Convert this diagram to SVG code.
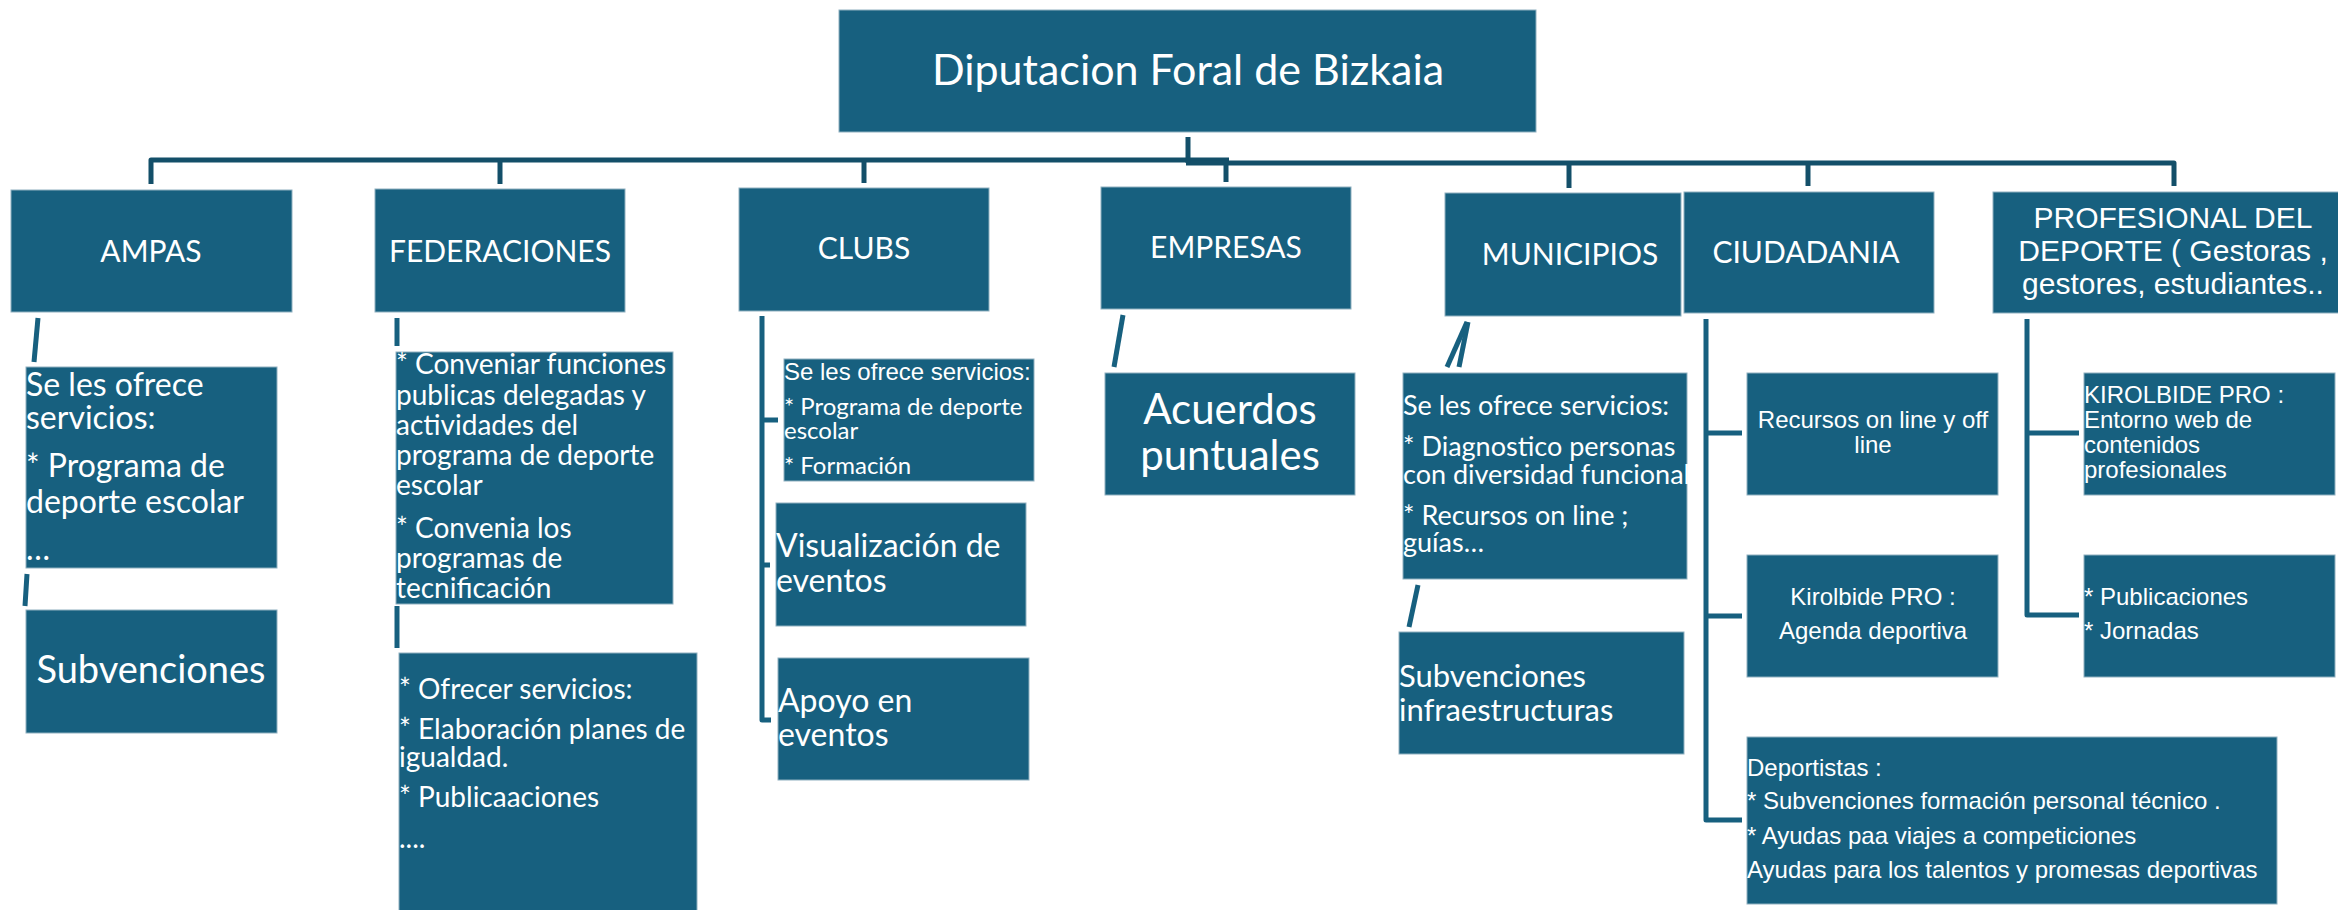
<svg xmlns="http://www.w3.org/2000/svg" width="2338" height="910" viewBox="0 0 2338 910">
<style>
.box{fill:#17607f;stroke:#8fb0c0;stroke-width:1}
.c{fill:none;stroke:#17607f;stroke-width:5;stroke-linejoin:round}
.ct{fill:none;stroke:#134f69;stroke-width:5;stroke-linejoin:round}
.l{font-family:Lato,"Open Sans",sans-serif;fill:#fff}
.a{font-family:"Liberation Sans",Arial,sans-serif;fill:#fff}
.m{text-anchor:middle}
</style>
<rect width="2338" height="910" fill="#fff"/>
<g id="connectors">
<path class="ct" d="M151,184 V160 H1229"/>
<path class="ct" d="M1186,163 H2174 V186"/>
<path class="ct" d="M1188,137 V163"/>
<path class="ct" d="M500,160 V184"/>
<path class="ct" d="M864,160 V183"/>
<path class="ct" d="M1226,163 V182"/>
<path class="ct" d="M1569,163 V188"/>
<path class="ct" d="M1808,163 V186"/>
<path class="c" d="M38,318 L34,362" stroke-width="6"/>
<path class="c" d="M27,574 L25,606"/>
<path class="c" d="M397,318 V346"/>
<path class="c" d="M397,606 V648"/>
<path class="c" d="M762,316 V720 H771"/>
<path class="c" d="M762,420 H778"/>
<path class="c" d="M762,565 H770"/>
<path class="c" d="M1123,315 L1114,367"/>
<path class="c" d="M1467,322 L1447,367" stroke-width="4"/>
<path class="c" d="M1468,322 L1459,367" stroke-width="4"/>
<path class="c" d="M1418,585 L1409,627"/>
<path class="c" d="M1706,319 V820 H1742"/>
<path class="c" d="M1706,433 H1742"/>
<path class="c" d="M1706,616 H1742"/>
<path class="c" d="M2027,319 V615 H2079"/>
<path class="c" d="M2027,433 H2079"/>
</g>
<g id="diputacion">
<rect class="box" x="839" y="10" width="697" height="122"/>
<text class="l m" x="1188" y="85" font-size="43">Diputacion Foral de Bizkaia</text>
</g>
<g id="ampas">
<rect class="box" x="11" y="190" width="281" height="122"/>
<text class="l m" x="151" y="262" font-size="30">AMPAS</text>
</g>
<g id="ampas-servicios">
<rect class="box" x="26" y="367" width="251" height="201"/>
<text class="l" font-size="32"><tspan x="26" y="396">Se les ofrece</tspan><tspan x="26" y="429">servicios:</tspan><tspan x="26" y="477">* Programa de</tspan><tspan x="26" y="513">deporte escolar</tspan><tspan x="26" y="560">…</tspan></text>
</g>
<g id="ampas-subvenciones">
<rect class="box" x="26" y="610" width="251" height="123"/>
<text class="l m" x="151" y="683" font-size="38">Subvenciones</text>
</g>
<g id="federaciones">
<rect class="box" x="375" y="189" width="250" height="123"/>
<text class="l m" x="500" y="262" font-size="30">FEDERACIONES</text>
</g>
<g id="fed-convenios">
<rect class="box" x="396" y="352" width="277" height="252"/>
<text class="l" font-size="28"><tspan x="396" y="374">* Conveniar funciones</tspan><tspan x="396" y="405">publicas delegadas y</tspan><tspan x="396" y="435">actividades del</tspan><tspan x="396" y="465">programa de deporte</tspan><tspan x="396" y="495">escolar</tspan><tspan x="396" y="538">* Convenia los</tspan><tspan x="396" y="568">programas de</tspan><tspan x="396" y="598">tecnificación</tspan></text>
</g>
<g id="fed-servicios">
<rect class="box" x="399" y="653" width="298" height="262"/>
<text class="l" font-size="28"><tspan x="399" y="699">* Ofrecer servicios:</tspan><tspan x="399" y="739">* Elaboración planes de</tspan><tspan x="399" y="767">igualdad.</tspan><tspan x="399" y="807">* Publicaaciones</tspan><tspan x="399" y="848">....</tspan></text>
</g>
<g id="clubs">
<rect class="box" x="739" y="188" width="250" height="123"/>
<text class="l m" x="864" y="259" font-size="30">CLUBS</text>
</g>
<g id="clubs-servicios">
<rect class="box" x="784" y="359" width="250" height="122"/>
<text class="a" x="784" y="380" font-size="24">Se les ofrece servicios:</text>
<text class="l" font-size="24"><tspan x="784" y="415">* Programa de deporte</tspan><tspan x="784" y="439">escolar</tspan><tspan x="784" y="474">* Formación</tspan></text>
</g>
<g id="clubs-visualizacion">
<rect class="box" x="776" y="503" width="250" height="123"/>
<text class="l" font-size="32"><tspan x="776" y="557">Visualización de</tspan><tspan x="776" y="592">eventos</tspan></text>
</g>
<g id="clubs-apoyo">
<rect class="box" x="778" y="658" width="251" height="122"/>
<text class="l" font-size="32"><tspan x="778" y="712">Apoyo en</tspan><tspan x="778" y="746">eventos</tspan></text>
</g>
<g id="empresas">
<rect class="box" x="1101" y="187" width="250" height="122"/>
<text class="l m" x="1226" y="258" font-size="30">EMPRESAS</text>
</g>
<g id="empresas-acuerdos">
<rect class="box" x="1105" y="373" width="250" height="122"/>
<text class="l m" font-size="42"><tspan x="1230" y="424">Acuerdos</tspan><tspan x="1230" y="470">puntuales</tspan></text>
</g>
<g id="municipios">
<rect class="box" x="1445" y="193" width="236" height="123"/>
<text class="l m" x="1570" y="265" font-size="30">MUNICIPIOS</text>
</g>
<g id="muni-servicios">
<rect class="box" x="1403" y="373" width="284" height="206"/>
<text class="l" font-size="27"><tspan x="1403" y="415">Se les ofrece servicios:</tspan><tspan x="1403" y="456">* Diagnostico personas</tspan><tspan x="1403" y="484">con diversidad funcional</tspan><tspan x="1403" y="525">* Recursos on line ;</tspan><tspan x="1403" y="552">guías…</tspan></text>
</g>
<g id="muni-subvenciones">
<rect class="box" x="1399" y="632" width="285" height="122"/>
<text class="l" font-size="31"><tspan x="1399" y="687">Subvenciones</tspan><tspan x="1399" y="721">infraestructuras</tspan></text>
</g>
<g id="ciudadania">
<rect class="box" x="1684" y="192" width="250" height="121"/>
<text class="l m" x="1806" y="263" font-size="30">CIUDADANIA</text>
</g>
<g id="ciud-recursos">
<rect class="box" x="1747" y="373" width="251" height="122"/>
<text class="a m" font-size="24"><tspan x="1873" y="428">Recursos on line y off</tspan><tspan x="1873" y="453">line</tspan></text>
</g>
<g id="ciud-kirolbide">
<rect class="box" x="1747" y="555" width="251" height="122"/>
<text class="a m" font-size="24"><tspan x="1873" y="605">Kirolbide PRO :</tspan><tspan x="1873" y="639">Agenda deportiva</tspan></text>
</g>
<g id="ciud-deportistas">
<rect class="box" x="1747" y="737" width="530" height="167"/>
<text class="a" font-size="24"><tspan x="1747" y="776">Deportistas :</tspan><tspan x="1747" y="809">* Subvenciones formación personal técnico .</tspan><tspan x="1747" y="844">* Ayudas paa viajes a competiciones</tspan><tspan x="1747" y="878">Ayudas para los talentos y promesas deportivas</tspan></text>
</g>
<g id="profesional">
<rect class="box" x="1993" y="192" width="350" height="121"/>
<text class="a m" font-size="30"><tspan x="2173" y="228">PROFESIONAL DEL</tspan><tspan x="2173" y="261">DEPORTE ( Gestoras ,</tspan><tspan x="2173" y="294">gestores, estudiantes..</tspan></text>
</g>
<g id="prof-kirolbide">
<rect class="box" x="2084" y="373" width="251" height="122"/>
<text class="a" font-size="24"><tspan x="2084" y="403">KIROLBIDE PRO :</tspan><tspan x="2084" y="428">Entorno web de</tspan><tspan x="2084" y="453">contenidos</tspan><tspan x="2084" y="478">profesionales</tspan></text>
</g>
<g id="prof-publicaciones">
<rect class="box" x="2084" y="555" width="251" height="122"/>
<text class="a" font-size="24"><tspan x="2084" y="605">* Publicaciones</tspan><tspan x="2084" y="639">* Jornadas</tspan></text>
</g>
</svg>
